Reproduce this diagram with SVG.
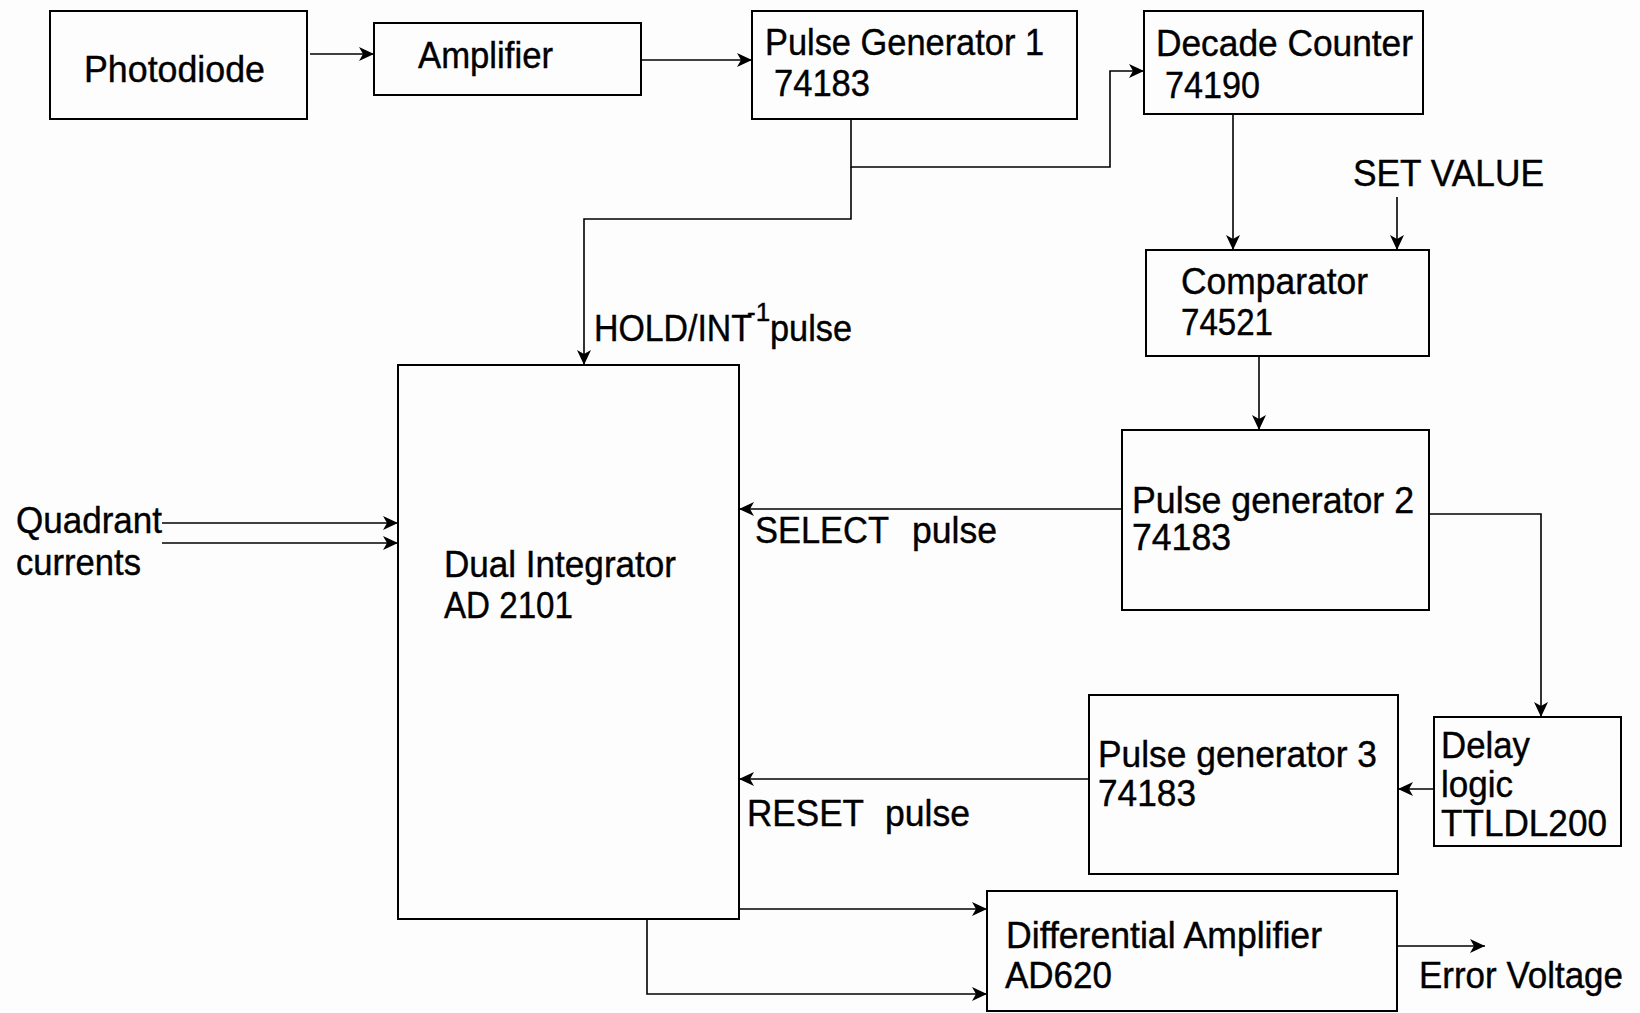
<svg xmlns="http://www.w3.org/2000/svg" width="1640" height="1013" viewBox="0 0 1640 1013">
<style>
.box{fill:none;stroke:#000;stroke-width:2}
.ln{fill:none;stroke:#000;stroke-width:1.6}
.arr{marker-end:url(#ah)}
text{font-family:"Liberation Sans",Arial,sans-serif;font-size:36px;fill:#000;stroke:#000;stroke-width:0.4}
</style>
<defs>
<marker id="ah" markerUnits="userSpaceOnUse" markerWidth="16" markerHeight="14" refX="15" refY="7" orient="auto">
<path d="M0,0 L15,7 L0,14 L4,7 z" fill="#000"/>
</marker>
</defs>
<rect width="1640" height="1013" fill="#fdfdfd"/>

<g id="photodiode">
<rect class="box" x="50" y="11" width="257" height="108"/>
<text x="84" y="82" textLength="181" lengthAdjust="spacingAndGlyphs">Photodiode</text>
</g>
<g id="amplifier">
<rect class="box" x="374" y="23" width="267" height="72"/>
<text x="418" y="68" textLength="135" lengthAdjust="spacingAndGlyphs">Amplifier</text>
</g>
<g id="pulse-gen-1">
<rect class="box" x="752" y="11" width="325" height="108"/>
<text x="765" y="55" textLength="279" lengthAdjust="spacingAndGlyphs">Pulse Generator 1</text>
<text x="774" y="96" textLength="96" lengthAdjust="spacingAndGlyphs">74183</text>
</g>
<g id="decade-counter">
<rect class="box" x="1144" y="11" width="279" height="103"/>
<text x="1156" y="56" textLength="257" lengthAdjust="spacingAndGlyphs">Decade Counter</text>
<text x="1165" y="98" textLength="95" lengthAdjust="spacingAndGlyphs">74190</text>
</g>
<g id="comparator">
<rect class="box" x="1146" y="250" width="283" height="106"/>
<text x="1181" y="294" textLength="187" lengthAdjust="spacingAndGlyphs">Comparator</text>
<text x="1181" y="335" textLength="92" lengthAdjust="spacingAndGlyphs">74521</text>
</g>
<g id="pulse-gen-2">
<rect class="box" x="1122" y="430" width="307" height="180"/>
<text x="1132" y="513" textLength="282" lengthAdjust="spacingAndGlyphs">Pulse generator 2</text>
<text x="1132" y="550" textLength="99" lengthAdjust="spacingAndGlyphs">74183</text>
</g>
<g id="delay-logic">
<rect class="box" x="1434" y="717" width="187" height="129"/>
<text x="1441" y="758" textLength="89" lengthAdjust="spacingAndGlyphs">Delay</text>
<text x="1441" y="797" textLength="72" lengthAdjust="spacingAndGlyphs">logic</text>
<text x="1441" y="836" textLength="166" lengthAdjust="spacingAndGlyphs">TTLDL200</text>
</g>
<g id="pulse-gen-3">
<rect class="box" x="1089" y="695" width="309" height="179"/>
<text x="1098" y="767" textLength="279" lengthAdjust="spacingAndGlyphs">Pulse generator 3</text>
<text x="1098" y="806" textLength="98" lengthAdjust="spacingAndGlyphs">74183</text>
</g>
<g id="dual-integrator">
<rect class="box" x="398" y="365" width="341" height="554"/>
<text x="444" y="577" textLength="232" lengthAdjust="spacingAndGlyphs">Dual Integrator</text>
<text x="444" y="618" textLength="129" lengthAdjust="spacingAndGlyphs">AD 2101</text>
</g>
<g id="differential-amplifier">
<rect class="box" x="987" y="891" width="410" height="120"/>
<text x="1006" y="948" textLength="316" lengthAdjust="spacingAndGlyphs">Differential Amplifier</text>
<text x="1005" y="988" textLength="107" lengthAdjust="spacingAndGlyphs">AD620</text>
</g>

<g id="labels">
<text x="16" y="533" textLength="146" lengthAdjust="spacingAndGlyphs">Quadrant</text>
<text x="16" y="575" textLength="125" lengthAdjust="spacingAndGlyphs">currents</text>
<text x="1353" y="186" textLength="191" lengthAdjust="spacingAndGlyphs">SET VALUE</text>
<text x="594" y="341" textLength="158" lengthAdjust="spacingAndGlyphs">HOLD/INT</text>
<text x="747" y="321" style="font-size:26px">-1</text>
<text x="770" y="341" textLength="82" lengthAdjust="spacingAndGlyphs">pulse</text>
<text x="755" y="543" textLength="134" lengthAdjust="spacingAndGlyphs">SELECT</text>
<text x="912" y="543" textLength="85" lengthAdjust="spacingAndGlyphs">pulse</text>
<text x="747" y="826" textLength="117" lengthAdjust="spacingAndGlyphs">RESET</text>
<text x="885" y="826" textLength="85" lengthAdjust="spacingAndGlyphs">pulse</text>
<text x="1419" y="988" textLength="204" lengthAdjust="spacingAndGlyphs">Error Voltage</text>
</g>

<g id="connectors">
<line class="ln arr" x1="310" y1="54" x2="374" y2="54"/>
<line class="ln arr" x1="641" y1="60" x2="752" y2="60"/>
<polyline class="ln arr" points="851,119 851,167 1110,167 1110,71 1144,71"/>
<polyline class="ln arr" points="851,167 851,219 584,219 584,365"/>
<line class="ln arr" x1="1233" y1="114" x2="1233" y2="250"/>
<line class="ln arr" x1="1397" y1="197" x2="1397" y2="250"/>
<line class="ln arr" x1="1259" y1="356" x2="1259" y2="430"/>
<line class="ln arr" x1="1122" y1="509" x2="739" y2="509"/>
<polyline class="ln arr" points="1429,514 1541,514 1541,717"/>
<line class="ln arr" x1="1434" y1="789" x2="1398" y2="789"/>
<line class="ln arr" x1="1089" y1="779" x2="739" y2="779"/>
<line class="ln arr" x1="162" y1="523" x2="398" y2="523"/>
<line class="ln arr" x1="162" y1="543" x2="398" y2="543"/>
<line class="ln arr" x1="739" y1="909" x2="987" y2="909"/>
<polyline class="ln arr" points="647,919 647,994 987,994"/>
<line class="ln arr" x1="1397" y1="946" x2="1485" y2="946"/>
</g>
</svg>
